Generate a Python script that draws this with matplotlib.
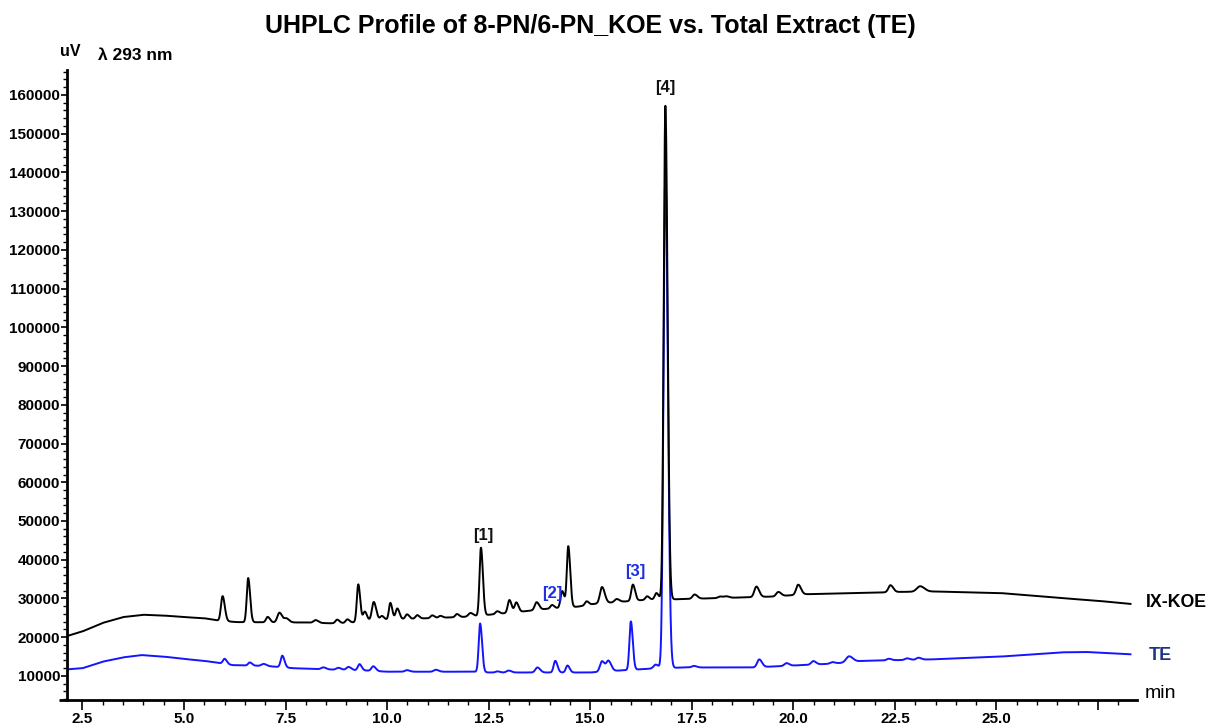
import numpy as np
import matplotlib
matplotlib.use("Agg")
import matplotlib.pyplot as plt
from matplotlib.ticker import MultipleLocator, FixedLocator, FixedFormatter

plt.rcParams['font.family'] = ['Liberation Sans', 'DejaVu Sans']

# ---------------- data ----------------
title = "UHPLC Profile of 8-PN/6-PN_KOE vs. Total Extract (TE)"
series_names = ["IX-KOE", "TE"]

# baseline knots (time [min], signal [uV])
koe_base_t = [2.12, 2.5, 3.0, 3.5, 4.0, 4.5, 5.0, 5.5, 5.85, 6.3, 8.0, 8.6, 9.0, 9.9,
              11.0, 12.0, 12.5, 13.3, 13.9, 14.7, 15.1, 15.7, 16.3, 16.6, 17.1, 18.5,
              19.5, 20.3, 22.0, 22.6, 23.5, 25.1, 26.6, 27.5, 28.3]
koe_base_v = [20300, 21500, 23700, 25200, 25800, 25600, 25200, 24900, 24300, 23900,
              23800, 23600, 23700, 24500, 24900, 25300, 25800, 26600, 27300, 27900,
              28600, 29100, 29600, 29800, 29800, 30200, 30500, 31100, 31500, 31700,
              31800, 31400, 30100, 29400, 28600]

te_base_t = [2.12, 2.5, 3.0, 3.5, 3.95, 4.5, 5.0, 5.5, 5.9, 6.2, 7.0, 7.7, 8.5, 9.5,
             10.0, 12.2, 12.5, 15.0, 15.7, 16.5, 17.3, 19.0, 19.4, 20.0, 21.0, 21.7,
             22.6, 23.45, 25.1, 26.6, 27.2, 28.3]
te_base_v = [11700, 12000, 13700, 14800, 15400, 15000, 14400, 13900, 13300, 12800,
             12600, 12000, 11700, 11400, 11100, 11100, 10900, 10900, 11400, 11900,
             12200, 12200, 12400, 12700, 13200, 13900, 14100, 14300, 15000, 16100,
             16200, 15600]

# peaks: retention time [min], height above baseline [uV], width (sigma, min)
koe_peak_rt = [5.95, 6.58, 7.06, 7.35, 7.52, 8.24, 8.77, 9.02, 9.29, 9.45, 9.67, 9.87,
               10.08, 10.25, 10.49, 10.74, 11.11, 11.31, 11.72, 12.05, 12.31, 12.71,
               13.01, 13.18, 13.68, 14.06, 14.31, 14.46, 14.91, 15.29, 15.65, 16.05,
               16.40, 16.63, 16.85, 17.57, 18.20, 18.35, 19.09, 19.63, 20.12, 22.39,
               23.12]
koe_peak_h = [6400, 11400, 1400, 2500, 1000, 700, 900, 900, 9700, 2500, 4800, 1000,
              4300, 2800, 1200, 900, 700, 500, 800, 900, 17500, 700,
              3300, 2500, 2000, 900, 4300, 15700, 1000, 4200, 800, 4200,
              900, 1600, 127400, 1100, 400, 400, 2700, 1100, 2600, 1800,
              1400]
koe_peak_w = [0.04, 0.035, 0.04, 0.05, 0.05, 0.05, 0.04, 0.04, 0.035, 0.04, 0.045, 0.04,
              0.035, 0.04, 0.04, 0.04, 0.04, 0.04, 0.04, 0.05, 0.035, 0.04,
              0.04, 0.04, 0.045, 0.04, 0.04, 0.035, 0.04, 0.05, 0.05, 0.04,
              0.04, 0.04, 0.04, 0.05, 0.05, 0.05, 0.05, 0.05, 0.05, 0.05,
              0.08]

te_peak_rt = [6.00, 6.62, 6.96, 7.42, 8.43, 8.80, 9.05, 9.32, 9.66, 10.49, 11.20, 12.29,
              12.71, 12.99, 13.70, 14.14, 14.44, 15.29, 15.45, 16.00, 16.61, 16.85,
              17.55, 19.16, 19.83, 20.49, 20.96, 21.37, 22.35, 22.80, 23.08]
te_peak_h = [1300, 800, 500, 3000, 500, 500, 800, 1600, 1200, 400, 500, 12500,
             300, 500, 1300, 3000, 1800, 2700, 2600, 12500, 1000, 128000,
             400, 2000, 700, 900, 400, 1500, 400, 400, 500]
te_peak_w = [0.04, 0.04, 0.05, 0.04, 0.05, 0.05, 0.05, 0.04, 0.045, 0.05, 0.05, 0.035,
             0.04, 0.05, 0.05, 0.04, 0.04, 0.05, 0.05, 0.035, 0.05, 0.045,
             0.05, 0.05, 0.05, 0.05, 0.05, 0.07, 0.05, 0.05, 0.05]

# peak annotations: label, time, signal, colour key
ann_labels = ["[1]", "[2]", "[3]", "[4]"]
ann_t = [12.37, 14.07, 16.11, 16.85]
ann_v = [46300, 31200, 36900, 162000]
ann_series = [0, 1, 1, 0]

x_major_ticks = [2.5, 5.0, 7.5, 10.0, 12.5, 15.0, 17.5, 20.0, 22.5, 25.0, 27.5]
x_tick_labels = ["2.5", "5.0", "7.5", "10.0", "12.5", "15.0", "17.5", "20.0", "22.5", "25.0", ""]
y_major_ticks = list(range(10000, 160001, 10000))

# ---------------- build traces ----------------
t = np.linspace(2.12, 28.3, 8000)


def trace(bt, bv, rt, h, w, tail=1.35):
    y = np.interp(t, bt, bv).astype(float)
    for r, hh, s in zip(rt, h, w):
        sig = np.where(t < r, s, s * tail)
        y += hh * np.exp(-0.5 * ((t - r) / sig) ** 2)
    return y


koe = trace(koe_base_t, koe_base_v, koe_peak_rt, koe_peak_h, koe_peak_w)
te = trace(te_base_t, te_base_v, te_peak_rt, te_peak_h, te_peak_w)

# ---------------- figure ----------------
W, H = 1208, 726
fig = plt.figure(figsize=(W / 100, H / 100), dpi=100)
ax = fig.add_axes([67 / W, 1 - 700 / H, (1137 - 67) / W, (700 - 70) / H])

line_colors = ["#000000", "#1414ff"]
label_colors = ["#000000", "#1c3580"]
ann_colors = ["#111111", "#2030e0"]

ax.plot(t, te, color=line_colors[1], lw=1.4, zorder=2)
ax.plot(t, koe, color=line_colors[0], lw=1.4, zorder=3)

ax.set_xlim(2.12, 28.46)
ax.set_ylim(3800, 166400)

for s in ["top", "right"]:
    ax.spines[s].set_visible(False)
for s in ["left", "bottom"]:
    ax.spines[s].set_linewidth(2.0)
# bottom axis line extends slightly left of the y axis
ax.plot([-0.0075, 0], [0, 0], transform=ax.transAxes, color="k", lw=2.0,
        clip_on=False, solid_capstyle="butt")

ax.xaxis.set_major_locator(FixedLocator(x_major_ticks))
ax.xaxis.set_major_formatter(FixedFormatter(x_tick_labels))
ax.xaxis.set_minor_locator(MultipleLocator(0.5))
ax.yaxis.set_major_locator(FixedLocator(y_major_ticks))
ax.yaxis.set_minor_locator(MultipleLocator(2000))

ax.tick_params(axis="x", which="major", direction="out", length=7, width=1.2,
               pad=1.5, labelsize=11)
ax.tick_params(axis="x", which="minor", direction="out", length=3.5, width=1.0)
ax.tick_params(axis="y", which="major", direction="out", length=4.5, width=1.2,
               pad=0.5, labelsize=11)
ax.tick_params(axis="y", which="minor", direction="out", length=3, width=1.0)
for lab in ax.get_xticklabels() + ax.get_yticklabels():
    lab.set_fontweight("bold")

# peak annotations
for lab, xt, yv, si in zip(ann_labels, ann_t, ann_v, ann_series):
    ax.text(xt, yv, lab, color=ann_colors[si], fontsize=12, fontweight="bold",
            ha="center", va="center")

# series labels at the right end
ax.text(28.67, koe[-1] + 400, series_names[0], color=label_colors[0], fontsize=12.8,
        fontweight="bold", ha="left", va="center", clip_on=False)
ax.text(28.74, te[-1] - 200, series_names[1], color=label_colors[1], fontsize=13,
        fontweight="bold", ha="left", va="center", clip_on=False)

# axis texts
fig.text(590 / W, 1 - 26 / H, title, ha="center", va="center", fontsize=18,
         fontweight="bold")
fig.text(70 / W, 1 - 52 / H, "uV", ha="center", va="center", fontsize=11.5,
         fontweight="bold")
fig.text(98 / W, 1 - 56 / H, "λ 293 nm", ha="left", va="center", fontsize=12.5,
         fontweight="bold")
fig.text(1145 / W, 1 - 694 / H, "min", ha="left", va="center", fontsize=14)

fig.savefig("out.png", dpi=100)
